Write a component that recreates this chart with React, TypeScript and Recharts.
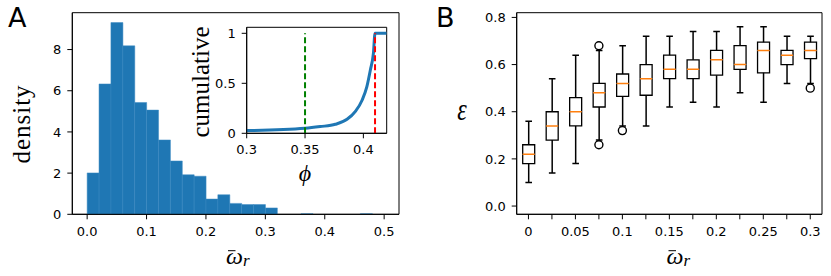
import React from 'react';
import {
  ComposedChart,
  LineChart,
  Line,
  Bar,
  Scatter,
  XAxis,
  YAxis,
  ReferenceLine,
  ReferenceArea,
} from 'recharts';

// panel A: histogram of mean omega_r (bins of width 0.02)
const histCenters = [
  0.01, 0.03, 0.05, 0.07, 0.09, 0.11, 0.13, 0.15, 0.17, 0.19, 0.21, 0.23, 0.25,
  0.27, 0.29, 0.31, 0.33, 0.35, 0.37, 0.39, 0.41, 0.43, 0.45, 0.47, 0.49,
];
const histDensity = [
  2.01, 6.33, 9.31, 8.18, 5.43, 5.06, 3.61, 2.59, 1.92, 1.85, 0.74, 0.95, 0.53,
  0.47, 0.47, 0.31, 0, 0, 0.03, 0, 0, 0, 0, 0.03, 0,
];
const histTicks = [0, 0.1, 0.2, 0.3, 0.4, 0.5];
const densityTicks = [0, 2, 4, 6, 8];

// inset: cumulative vs phi
const phiValues = [0.3, 0.35, 0.363, 0.376, 0.386, 0.393, 0.399, 0.403, 0.406, 0.4086, 0.41, 0.42];
const cumValues = [0.027, 0.05, 0.067, 0.09, 0.14, 0.217, 0.333, 0.467, 0.633, 0.8, 1.0, 1.0];
const phiTicks = [0.3, 0.35, 0.4];
const cumTicks = [0, 0.5, 1];

// panel B: boxplots of epsilon per omega_r bin
const boxCats = ['0', '0.025', '0.05', '0.075', '0.1', '0.125', '0.15', '0.175', '0.2', '0.225', '0.25', '0.275', '0.3'];
const boxTickLabels = ['0', '', '0.05', '', '0.1', '', '0.15', '', '0.2', '', '0.25', '', '0.3'];
const whiskerLow = [0.1, 0.14, 0.18, 0.28, 0.34, 0.34, 0.42, 0.44, 0.42, 0.48, 0.44, 0.52, 0.52];
const q1 = [0.18, 0.28, 0.34, 0.42, 0.465, 0.47, 0.54, 0.54, 0.555, 0.58, 0.565, 0.6, 0.625];
const median = [0.22, 0.34, 0.4, 0.48, 0.52, 0.54, 0.58, 0.58, 0.62, 0.6, 0.66, 0.64, 0.66];
const q3 = [0.26, 0.4, 0.46, 0.52, 0.56, 0.6, 0.64, 0.62, 0.66, 0.68, 0.695, 0.66, 0.695];
const whiskerHigh = [0.36, 0.54, 0.64, 0.66, 0.68, 0.72, 0.72, 0.74, 0.74, 0.76, 0.76, 0.72, 0.72];
const outHigh = [null, null, null, 0.68, null, null, null, null, null, null, null, null, null];
const outLow = [null, null, null, 0.26, 0.32, null, null, null, null, null, null, null, 0.5];
const epsTicks = [0, 0.2, 0.4, 0.6, 0.8];

const BLUE = '#1f77b4';
const ORANGE = '#ff7f0e';
const tickFont = { fontSize: 13, fill: '#000', fontFamily: 'DejaVu Sans' };
const axisLine = { stroke: '#000', strokeWidth: 1 };

const histRows = histCenters.map((x, i) => ({ x, density: histDensity[i] }));
const cumRows = phiValues.map((phi, i) => ({ phi, cum: cumValues[i] }));
const boxRows = boxCats.map((cat, i) => ({
  cat,
  base: whiskerLow[i],
  wLow: q1[i] - whiskerLow[i],
  boxLow: median[i] - q1[i],
  boxHigh: q3[i] - median[i],
  wHigh: whiskerHigh[i] - q3[i],
  outHigh: outHigh[i],
  outLow: outLow[i],
}));

const CAP = 3.3;

const LowWhisker = (p: any) => {
  const cx = p.x + p.width / 2;
  const top = Math.min(p.y, p.y + p.height);
  const bot = Math.max(p.y, p.y + p.height);
  return (
    <g stroke="#000" strokeWidth={1.5}>
      <line x1={cx} x2={cx} y1={top} y2={bot} />
      <line x1={cx - CAP} x2={cx + CAP} y1={bot} y2={bot} />
    </g>
  );
};

const HighWhisker = (p: any) => {
  const cx = p.x + p.width / 2;
  const top = Math.min(p.y, p.y + p.height);
  const bot = Math.max(p.y, p.y + p.height);
  return (
    <g stroke="#000" strokeWidth={1.5}>
      <line x1={cx} x2={cx} y1={top} y2={bot} />
      <line x1={cx - CAP} x2={cx + CAP} y1={top} y2={top} />
    </g>
  );
};

const BoxLower = (p: any) => {
  const top = Math.min(p.y, p.y + p.height);
  const bot = Math.max(p.y, p.y + p.height);
  const l = p.x;
  const r = p.x + p.width;
  return <path d={`M${l},${top}L${l},${bot}L${r},${bot}L${r},${top}`} fill="none" stroke="#000" strokeWidth={1.3} />;
};

const BoxUpper = (p: any) => {
  const top = Math.min(p.y, p.y + p.height);
  const bot = Math.max(p.y, p.y + p.height);
  const l = p.x;
  const r = p.x + p.width;
  return (
    <g>
      <path d={`M${l},${bot}L${l},${top}L${r},${top}L${r},${bot}`} fill="none" stroke="#000" strokeWidth={1.3} />
      <line x1={l} x2={r} y1={bot} y2={bot} stroke={ORANGE} strokeWidth={1.5} />
    </g>
  );
};

const makeFlier = (key: string) => (p: any) => {
  if (p.payload == null || p.payload[key] == null) return <g />;
  return <circle cx={p.cx} cy={p.cy} r={4} fill="none" stroke="#000" strokeWidth={1.4} />;
};

const serif = 'Liberation Serif';

// omega with a bar accent and subscript r; x = left edge of the omega
const OmegaLabel = ({ x, y }: { x: number; y: number }) => (
  <g fontFamily={serif} fontStyle="italic">
    <line x1={x + 2} x2={x + 9.5} y1={y - 13.3} y2={y - 13.3} stroke="#000" strokeWidth={1} />
    <text x={x} y={y} fontSize={24}>
      ω<tspan fontSize={17} dy={2.3}>r</tspan>
    </text>
  </g>
);

export default function App() {
  return (
    <div style={{ position: 'absolute', left: 0, top: 0, width: 831, height: 276, background: '#fff', overflow: 'hidden' }}>
      {/* panel A */}
      <div style={{ position: 'absolute', left: 0, top: 0 }}>
        <ComposedChart
          width={410}
          height={276}
          data={histRows}
          margin={{ top: 12.7, right: 11, bottom: 0, left: 0 }}
          barCategoryGap={0}
          barGap={0}
        >
          <XAxis
            dataKey="x"
            type="number"
            domain={[-0.025, 0.525]}
            allowDataOverflow
            ticks={histTicks}
            interval={0}
            tickFormatter={(v: number) => v.toFixed(1)}
            tick={tickFont}
            tickSize={5}
            tickMargin={7}
            axisLine={axisLine}
            tickLine={axisLine}
            height={61.7}
          />
          <YAxis
            type="number"
            domain={[0, 9.79]}
            allowDataOverflow
            ticks={densityTicks}
            interval={0}
            tick={tickFont}
            tickSize={5}
            tickMargin={6}
            axisLine={axisLine}
            tickLine={axisLine}
            width={72.3}
          />
          <Bar dataKey="density" fill={BLUE} stroke="#3d8bc2" strokeWidth={0.5} isAnimationActive={false} />
          <ReferenceArea x1={-0.025} x2={0.525} y1={0} y2={9.79} fill="none" stroke="#000" strokeWidth={1} ifOverflow="visible" />
        </ComposedChart>
      </div>

      {/* inset */}
      <div style={{ position: 'absolute', left: 200, top: 20 }}>
        <LineChart width={200} height={170} data={cumRows} margin={{ top: 7.3, right: 13.3, bottom: 31.7, left: 0 }}>
          <XAxis
            dataKey="phi"
            type="number"
            domain={[0.3, 0.42]}
            allowDataOverflow
            ticks={phiTicks}
            interval={0}
            tickFormatter={(v: number) => String(v)}
            tick={tickFont}
            tickSize={5}
            tickMargin={6}
            axisLine={axisLine}
            tickLine={axisLine}
            height={25}
          />
          <YAxis
            type="number"
            domain={[0, 1.06]}
            allowDataOverflow
            ticks={cumTicks}
            interval={0}
            tickFormatter={(v: number) => String(v)}
            tick={tickFont}
            tickSize={5}
            tickMargin={6}
            axisLine={axisLine}
            tickLine={axisLine}
            width={46.7}
          />
          <ReferenceArea x1={0.3} x2={0.42} y1={0} y2={1.06} fill="#fff" stroke="#000" strokeWidth={1} ifOverflow="visible" />
          <Line type="monotone" dataKey="cum" stroke={BLUE} strokeWidth={3} dot={false} isAnimationActive={false} />
          <ReferenceLine segment={[{ x: 0.35, y: 0 }, { x: 0.35, y: 1 }]} stroke="#008000" strokeWidth={2} strokeDasharray="6 3" />
          <ReferenceLine segment={[{ x: 0.41, y: 0 }, { x: 0.41, y: 1 }]} stroke="#ff0000" strokeWidth={2} strokeDasharray="6 3" />
        </LineChart>
      </div>

      {/* panel B */}
      <div style={{ position: 'absolute', left: 430, top: 0 }}>
        <ComposedChart width={401} height={276} data={boxRows} margin={{ top: 12.7, right: 9, bottom: 0, left: 0 }}>
          <XAxis
            dataKey="cat"
            type="category"
            interval={0}
            tickFormatter={(_v: string, i: number) => boxTickLabels[i]}
            tick={tickFont}
            tickSize={5}
            tickMargin={7}
            axisLine={axisLine}
            tickLine={axisLine}
            height={61.7}
          />
          <YAxis
            type="number"
            domain={[-0.035, 0.82]}
            allowDataOverflow
            ticks={epsTicks}
            interval={0}
            tickFormatter={(v: number) => v.toFixed(1)}
            tick={tickFont}
            tickSize={5}
            tickMargin={6}
            axisLine={axisLine}
            tickLine={axisLine}
            width={86.7}
          />
          <ReferenceArea x1="0" x2="0.3" y1={-0.035} y2={0.82} fill="none" stroke="#000" strokeWidth={1} ifOverflow="visible" />
          <Bar dataKey="base" stackId="b" fill="transparent" barSize={12} isAnimationActive={false} />
          <Bar dataKey="wLow" stackId="b" shape={LowWhisker} barSize={12} isAnimationActive={false} />
          <Bar dataKey="boxLow" stackId="b" shape={BoxLower} barSize={12} isAnimationActive={false} />
          <Bar dataKey="boxHigh" stackId="b" shape={BoxUpper} barSize={12} isAnimationActive={false} />
          <Bar dataKey="wHigh" stackId="b" shape={HighWhisker} barSize={12} isAnimationActive={false} />
          <Scatter dataKey="outHigh" shape={makeFlier('outHigh')} isAnimationActive={false} />
          <Scatter dataKey="outLow" shape={makeFlier('outLow')} isAnimationActive={false} />
        </ComposedChart>
      </div>

      {/* labels */}
      <svg width={831} height={276} style={{ position: 'absolute', left: 0, top: 0, pointerEvents: 'none' }}>
        <text x={8} y={27.3} fontSize={27} fontFamily="DejaVu Sans">A</text>
        <text x={436} y={27} fontSize={27} fontFamily="DejaVu Sans">B</text>
        <text transform="translate(21,124) rotate(-90)" textAnchor="middle" dominantBaseline="central" fontSize={25} fontFamily={serif} letterSpacing={1}>
          density
        </text>
        <text transform="translate(200.5,82) rotate(-90)" textAnchor="middle" dominantBaseline="central" fontSize={25} fontFamily={serif}>
          cumulative
        </text>
        <text x={305} y={172.5} textAnchor="middle" dominantBaseline="central" fontSize={24} fontStyle="italic" fontFamily={serif}>
          ϕ
        </text>
        <OmegaLabel x={226} y={264} />
        <OmegaLabel x={666.5} y={264} />
        <text transform="translate(462,119.5) scale(1,1.3)" textAnchor="middle" fontSize={24} fontStyle="italic" fontFamily={serif}>
          ε
        </text>
      </svg>
    </div>
  );
}
